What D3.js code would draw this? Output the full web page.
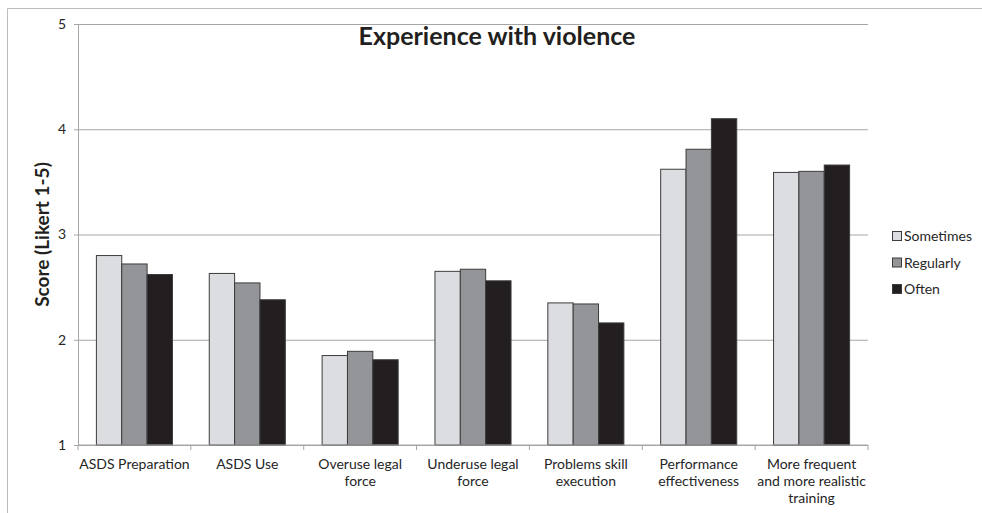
<!DOCTYPE html>
<html>
<head>
<meta charset="utf-8">
<script src="https://cdn.jsdelivr.net/npm/d3@7"></script>
<style>
  html, body { margin: 0; padding: 0; background: #fff; }
  svg { display: block; font-family: Lato, "Open Sans", sans-serif; }
</style>
</head>
<body>
<svg id="chart" width="982" height="513"></svg>
<script>
// Mean scores by category and frequency of violence experienced
const categories = [
  "ASDS Preparation",
  "ASDS Use",
  "Overuse legal\nforce",
  "Underuse legal\nforce",
  "Problems skill\nexecution",
  "Performance\neffectiveness",
  "More frequent\nand more realistic\ntraining"
];
const seriesNames = ["Sometimes", "Regularly", "Often"];
const sometimes = [2.80, 2.63, 1.85, 2.65, 2.35, 3.62, 3.59];
const regularly = [2.72, 2.54, 1.89, 2.67, 2.34, 3.81, 3.60];
const often     = [2.62, 2.38, 1.81, 2.56, 2.16, 4.10, 3.66];
const yTicks = [1, 2, 3, 4, 5];
const seriesColors = ["#dcdde0", "#939598", "#231f20"];

const seriesValues = [sometimes, regularly, often];

const svg = d3.select("#chart");
const W = 982, H = 513;
const plot = { left: 78, top: 24, right: 868, bottom: 445 };

// outer frame (top and left edges visible)
svg.append("path")
  .attr("d", `M7.5,${H} V8.5 H${W}`)
  .attr("fill", "none")
  .attr("stroke", "#bcbcbc")
  .attr("stroke-width", 1);

const x0 = d3.scaleBand()
  .domain(d3.range(categories.length))
  .range([plot.left, plot.right])
  .paddingInner(0)
  .paddingOuter(0);

const groupPad = 18.4;
const x1 = d3.scaleBand()
  .domain(d3.range(seriesNames.length))
  .range([groupPad, x0.bandwidth() - groupPad]);

const y = d3.scaleLinear().domain([1, 5]).range([plot.bottom, plot.top]);

// horizontal gridlines + y axis
const yAxis = d3.axisLeft(y)
  .tickValues(yTicks)
  .tickFormat(d3.format("d"))
  .tickSizeInner(-(plot.right - plot.left))
  .tickSizeOuter(0)
  .tickPadding(12);

const gy = svg.append("g")
  .attr("transform", `translate(${plot.left},0)`)
  .call(yAxis);
gy.select(".domain").attr("stroke", "#a6a6a6");
gy.selectAll(".tick line")
  .attr("stroke", "#a6a6a6")
  .attr("x1", -4);
gy.selectAll(".tick text")
  .attr("fill", "#262626")
  .style("font-size", "14px")
  .style("font-family", "Lato, 'Open Sans', sans-serif");

// bars
const groups = svg.append("g")
  .selectAll("g")
  .data(categories.map((c, i) => i))
  .join("g")
  .attr("transform", i => `translate(${x0(i)},0)`);

groups.selectAll("rect")
  .data(i => seriesValues.map((vals, s) => ({ s, v: vals[i] })))
  .join("rect")
  .attr("x", d => x1(d.s))
  .attr("width", x1.bandwidth())
  .attr("y", d => y(d.v))
  .attr("height", d => y(1) - y(d.v))
  .attr("fill", d => seriesColors[d.s])
  .attr("stroke", "#3c3c3c")
  .attr("stroke-width", 1);

// x axis baseline with category separators
const gx = svg.append("g")
  .attr("transform", `translate(0,${plot.bottom})`);
gx.append("line")
  .attr("x1", plot.left).attr("x2", plot.right)
  .attr("stroke", "#a6a6a6");
gx.selectAll("line.sep")
  .data(d3.range(categories.length + 1))
  .join("line")
  .attr("class", "sep")
  .attr("x1", i => i < categories.length ? x0(i) : plot.right)
  .attr("x2", i => i < categories.length ? x0(i) : plot.right)
  .attr("y1", 0).attr("y2", 5)
  .attr("stroke", "#a6a6a6");

// category labels
gx.selectAll("text.cat")
  .data(categories)
  .join("text")
  .attr("class", "cat")
  .attr("text-anchor", "middle")
  .attr("fill", "#262626")
  .style("font-size", "14px")
  .attr("transform", (d, i) => `translate(${x0(i) + x0.bandwidth() / 2},24)`)
  .selectAll("tspan")
  .data(d => d.split("\n"))
  .join("tspan")
  .attr("x", 0)
  .attr("dy", (d, j) => j === 0 ? 0 : 17)
  .text(d => d);

// title
svg.append("text")
  .attr("x", 497)
  .attr("y", 45)
  .attr("text-anchor", "middle")
  .attr("fill", "#231f20")
  .style("font-size", "25px")
  .style("font-weight", "bold")
  .text("Experience with violence");

// y axis title
svg.append("text")
  .attr("transform", `translate(49,${(plot.top + plot.bottom) / 2}) rotate(-90)`)
  .attr("text-anchor", "middle")
  .attr("fill", "#231f20")
  .style("font-size", "19px")
  .style("font-weight", "bold")
  .text("Score (Likert 1-5)");

// legend
const legend = svg.append("g")
  .selectAll("g")
  .data(seriesNames)
  .join("g")
  .attr("transform", (d, i) => `translate(892,${236 + i * 26.5})`);
legend.append("rect")
  .attr("x", 0.5).attr("y", -4.5)
  .attr("width", 9).attr("height", 9)
  .attr("fill", (d, i) => seriesColors[i])
  .attr("stroke", "#3c3c3c");
legend.append("text")
  .attr("x", 12)
  .attr("y", 5)
  .attr("fill", "#262626")
  .style("font-size", "14px")
  .text(d => d);
</script>
</body>
</html>
